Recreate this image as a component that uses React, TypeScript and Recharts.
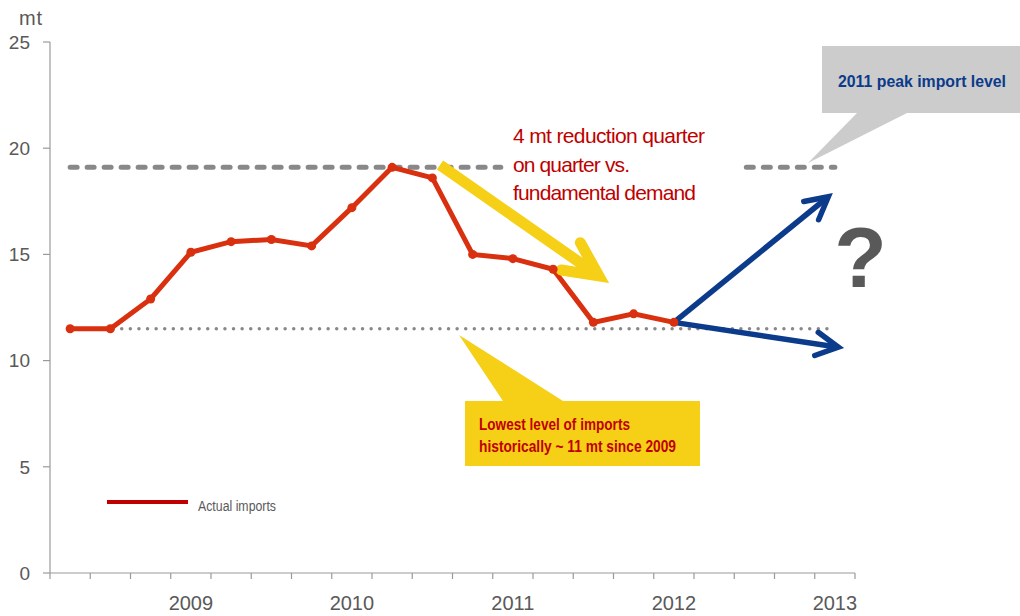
import React from 'react';
import { LineChart, Line, XAxis, YAxis, ReferenceLine } from 'recharts';

const quarters = [
  '2008 Q2', '2008 Q3', '2008 Q4', '2009 Q1', '2009 Q2', '2009 Q3', '2009 Q4',
  '2010 Q1', '2010 Q2', '2010 Q3', '2010 Q4', '2011 Q1', '2011 Q2', '2011 Q3',
  '2011 Q4', '2012 Q1', '2012 Q2', '2012 Q3', '2012 Q4', '2013 Q1',
];
const actualImports = [11.5, 11.5, 12.9, 15.1, 15.6, 15.7, 15.4, 17.2, 19.1, 18.6, 15.0, 14.8, 14.3, 11.8, 12.2, 11.8];
const yTicks = [0, 5, 10, 15, 20, 25];
const peakLevel = 19.1;
const lowLevel = 11.5;

const data = quarters.map((q, i) => ({
  quarter: q,
  pos: i + 0.5,
  imports: i < actualImports.length ? actualImports[i] : null,
}));
const boundaryTicks = quarters.map((_, i) => i).concat([quarters.length]);
const yearTicks = data.filter((d) => d.quarter.endsWith('Q1')).map((d) => d.pos);
const yearOf = (p: number) => {
  const d = data.find((e) => e.pos === p);
  return d ? d.quarter.slice(0, 4) : '';
};

const FONT = '"Liberation Sans", Arial, sans-serif';
const GREY_TXT = '#595959';
const AXIS = '#9a9a9a';
const RED_LINE = '#d9300f';
const DARK_RED = '#c00000';
const YELLOW = '#f6cf17';
const BLUE = '#0b3b8a';

const makeArrow = (color: string, width: number, head: number, spread: number) => (p: any) => {
  const { x1, y1, x2, y2 } = p;
  const ang = Math.atan2(y2 - y1, x2 - x1);
  const back = width / 2 / Math.sin(spread);
  const vx = x2 - back * Math.cos(ang);
  const vy = y2 - back * Math.sin(ang);
  const a1 = ang + Math.PI - spread;
  const a2 = ang + Math.PI + spread;
  const p1x = vx + head * Math.cos(a1);
  const p1y = vy + head * Math.sin(a1);
  const p2x = vx + head * Math.cos(a2);
  const p2y = vy + head * Math.sin(a2);
  const lx = vx - width * 0.3 * Math.cos(ang);
  const ly = vy - width * 0.3 * Math.sin(ang);
  return (
    <g>
      <line x1={x1} y1={y1} x2={lx} y2={ly} stroke={color} strokeWidth={width} />
      <polyline
        points={`${p1x},${p1y} ${vx},${vy} ${p2x},${p2y}`}
        fill="none"
        stroke={color}
        strokeWidth={width}
        strokeLinejoin="miter"
        strokeMiterlimit={10}
        strokeLinecap="round"
      />
    </g>
  );
};

const lastPos = actualImports.length - 0.5;
const lastVal = actualImports[actualImports.length - 1];

export default function App() {
  return (
    <div style={{ position: 'absolute', left: 0, top: 0, width: 1020, height: 616, background: '#fff', fontFamily: FONT }}>
      <LineChart width={1020} height={616} data={data} margin={{ top: 42, right: 165, bottom: 0, left: 0 }}>
        <YAxis
          type="number"
          domain={[0, 25]}
          ticks={yTicks}
          width={50}
          tickSize={7}
          tickMargin={13}
          axisLine={{ stroke: AXIS, strokeWidth: 1.2 }}
          tickLine={{ stroke: AXIS, strokeWidth: 1.2 }}
          tick={{ fill: GREY_TXT, fontSize: 19, fontFamily: FONT }}
        />
        <XAxis
          dataKey="pos"
          type="number"
          domain={[0, quarters.length]}
          ticks={boundaryTicks}
          height={8}
          tickSize={6}
          tickFormatter={() => ''}
          axisLine={{ stroke: AXIS, strokeWidth: 1.2 }}
          tickLine={{ stroke: AXIS, strokeWidth: 1.2 }}
        />
        <XAxis
          xAxisId="years"
          dataKey="pos"
          type="number"
          domain={[0, quarters.length]}
          ticks={yearTicks}
          height={35}
          tickSize={0}
          tickMargin={15}
          axisLine={false}
          tickLine={false}
          tickFormatter={yearOf}
          tick={{ fill: GREY_TXT, fontSize: 20, fontFamily: FONT }}
        />
        <ReferenceLine
          segment={[{ x: 0.5, y: peakLevel }, { x: 11.2, y: peakLevel }]}
          stroke="#888"
          strokeWidth={5}
          strokeDasharray="7 10"
          strokeLinecap="round"
        />
        <ReferenceLine
          segment={[{ x: 17.3, y: peakLevel }, { x: 19.5, y: peakLevel }]}
          stroke="#888"
          strokeWidth={5}
          strokeDasharray="7 10"
          strokeLinecap="round"
        />
        <ReferenceLine
          segment={[{ x: 0.5, y: lowLevel }, { x: 19.5, y: lowLevel }]}
          stroke="#888"
          strokeWidth={3.5}
          strokeDasharray="0 8.6"
          strokeLinecap="round"
        />
        <Line
          dataKey="imports"
          stroke={RED_LINE}
          strokeWidth={5}
          dot={{ r: 4.5, fill: RED_LINE, stroke: RED_LINE, strokeWidth: 0 }}
          isAnimationActive={false}
          connectNulls={false}
        />
        <ReferenceLine
          segment={[{ x: 9.69, y: 19.21 }, { x: 13.89, y: 13.65 }]}
          shape={makeArrow(YELLOW, 11, 38, (26 * Math.PI) / 180)}
        />
        <ReferenceLine
          segment={[{ x: lastPos, y: lastVal }, { x: 19.45, y: 17.89 }]}
          shape={makeArrow(BLUE, 5.5, 25, (28 * Math.PI) / 180)}
        />
        <ReferenceLine
          segment={[{ x: lastPos, y: lastVal }, { x: 19.73, y: 10.59 }]}
          shape={makeArrow(BLUE, 5.5, 25, (28 * Math.PI) / 180)}
        />
      </LineChart>
      <svg
        width={1020}
        height={616}
        style={{ position: 'absolute', left: 0, top: 0, pointerEvents: 'none', fontFamily: FONT }}
      >
        <text x={19} y={25} fontSize={20} fill={GREY_TXT} textLength={23}>mt</text>

        <text x={513} y={143} fill={DARK_RED} fontSize={21} textLength={192}>4 mt reduction quarter</text>
        <text x={513} y={171.5} fill={DARK_RED} fontSize={21} textLength={117}>on quarter vs.</text>
        <text x={513} y={200} fill={DARK_RED} fontSize={21} textLength={183}>fundamental demand</text>

        <polygon points="857,113 907,113 808,163" fill="#cccccc" />
        <rect x={822} y={46} width={198} height={67} fill="#cccccc" />
        <text x={838} y={87} fontSize={16.5} fontWeight="bold" fill={BLUE} textLength={168} lengthAdjust="spacingAndGlyphs">
          2011 peak import level
        </text>

        <polygon points="503,401 563,401 459,335" fill={YELLOW} />
        <rect x={465} y={401} width={235} height={65} fill={YELLOW} />
        <text x={479} y={430} fontSize={17} fontWeight="bold" fill={DARK_RED} textLength={151} lengthAdjust="spacingAndGlyphs">
          Lowest level of imports
        </text>
        <text x={479} y={452} fontSize={17} fontWeight="bold" fill={DARK_RED} textLength={197} lengthAdjust="spacingAndGlyphs">
          historically ~ 11 mt since 2009
        </text>

        <text x={860.5} y={287} fontSize={86} fontWeight="bold" fill={GREY_TXT} textAnchor="middle">?</text>

        <line x1={107} y1={502} x2={188} y2={502} stroke={DARK_RED} strokeWidth={4} />
        <text x={198} y={511} fontSize={14} fill={GREY_TXT} textLength={78} lengthAdjust="spacingAndGlyphs">
          Actual imports
        </text>
      </svg>
    </div>
  );
}
